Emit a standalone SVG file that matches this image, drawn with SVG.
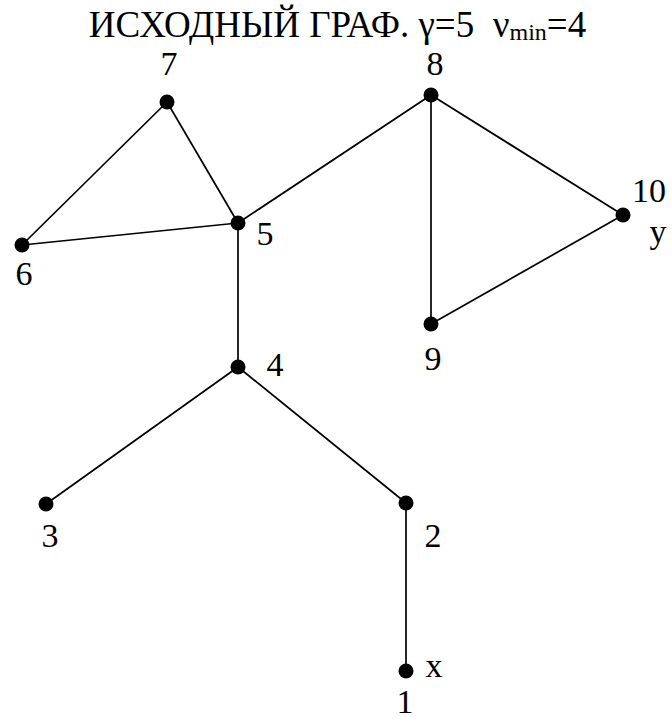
<svg xmlns="http://www.w3.org/2000/svg" width="672" height="721" viewBox="0 0 672 721">
<style>
.e{stroke:#000;stroke-width:1.7;fill:none}
.n{fill:#000}
.l{font-family:"Liberation Serif","Times New Roman",serif;font-size:34px;fill:#000;text-anchor:middle}
.t{font-family:"Liberation Serif","Times New Roman",serif;font-size:37px;fill:#000}
</style>
<rect width="672" height="721" fill="#fff"/>
<text class="t" x="337.5" y="37" text-anchor="middle" xml:space="preserve">ИСХОДНЫЙ ГРАФ. γ=5  ν<tspan font-size="24" dy="3">min</tspan><tspan dy="-3">=4</tspan></text>
<g id="edges">
<line class="e" x1="167" y1="102" x2="22" y2="245"/>
<line class="e" x1="167" y1="102" x2="238" y2="223"/>
<line class="e" x1="22" y1="245" x2="238" y2="223"/>
<line class="e" x1="238" y1="223" x2="431" y2="95"/>
<line class="e" x1="238" y1="223" x2="238" y2="367"/>
<line class="e" x1="431" y1="95" x2="431" y2="324"/>
<line class="e" x1="431" y1="95" x2="623" y2="215"/>
<line class="e" x1="431" y1="324" x2="623" y2="215"/>
<line class="e" x1="238" y1="367" x2="46" y2="504"/>
<line class="e" x1="238" y1="367" x2="406" y2="503"/>
<line class="e" x1="406" y1="503" x2="406" y2="671"/>
</g>
<g id="n1"><circle class="n" cx="406" cy="671" r="7.5"/><text class="l" x="405" y="713">1</text><text class="l" x="434" y="677">x</text></g>
<g id="n2"><circle class="n" cx="406" cy="503" r="7.5"/><text class="l" x="433" y="547">2</text></g>
<g id="n3"><circle class="n" cx="46" cy="504" r="7.5"/><text class="l" x="50" y="547">3</text></g>
<g id="n4"><circle class="n" cx="238" cy="367" r="7.5"/><text class="l" x="275" y="376">4</text></g>
<g id="n5"><circle class="n" cx="238" cy="223" r="7.5"/><text class="l" x="265" y="245">5</text></g>
<g id="n6"><circle class="n" cx="22" cy="245" r="7.5"/><text class="l" x="24" y="285">6</text></g>
<g id="n7"><circle class="n" cx="167" cy="102" r="7.5"/><text class="l" x="169" y="75">7</text></g>
<g id="n8"><circle class="n" cx="431" cy="95" r="7.5"/><text class="l" x="435" y="75">8</text></g>
<g id="n9"><circle class="n" cx="431" cy="324" r="7.5"/><text class="l" x="433" y="370">9</text></g>
<g id="n10"><circle class="n" cx="623" cy="215" r="7.5"/><text class="l" x="649" y="202">10</text><text class="l" x="658" y="243">y</text></g>
</svg>
